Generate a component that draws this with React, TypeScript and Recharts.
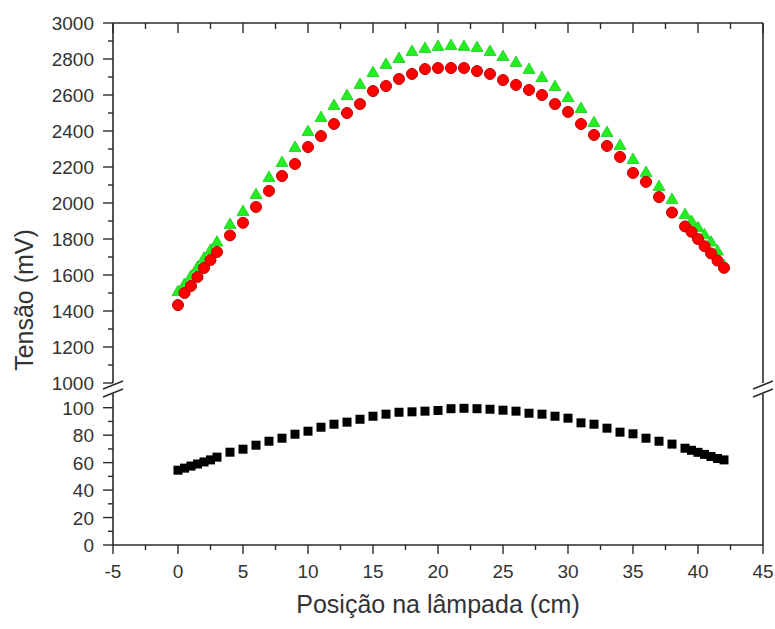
import { ScatterChart, Scatter, XAxis, YAxis } from 'recharts';

// posições (cm) — iguais para as três séries
const positions = [
  0, 0.5, 1, 1.5, 2, 2.5, 3, 4, 5, 6, 7, 8, 9, 10, 11, 12, 13, 14, 15, 16, 17, 18, 19, 20, 21, 22,
  23, 24, 25, 26, 27, 28, 29, 30, 31, 32, 33, 34, 35, 36, 37, 38, 39, 39.5, 40, 40.5, 41, 41.5, 42,
];

// tensão (mV)
const redVolts = [
  1433, 1500, 1539, 1589, 1639, 1683, 1728, 1820, 1890, 1978, 2067, 2150, 2217, 2311, 2372, 2439,
  2500, 2550, 2622, 2650, 2689, 2717, 2744, 2750, 2750, 2750, 2733, 2717, 2683, 2656, 2628, 2600,
  2550, 2506, 2439, 2378, 2317, 2256, 2167, 2117, 2033, 1947, 1870, 1840, 1800, 1760, 1720, 1680,
  1640,
];
const greenVolts = [
  1505, 1545, 1590, 1640, 1690, 1735, 1780, 1878, 1950, 2044, 2139, 2222, 2306, 2394, 2472, 2539,
  2594, 2656, 2722, 2767, 2800, 2839, 2856, 2867, 2872, 2867, 2861, 2839, 2811, 2778, 2739, 2694,
  2644, 2583, 2522, 2444, 2389, 2317, 2239, 2167, 2089, 2017, 1933, 1895, 1860, 1820, 1780, 1730,
  1650,
];
const blackVolts = [
  54.5, 56, 57.5, 59, 60.5, 62, 64, 67.6, 69.8, 72.7, 75.6, 77.8, 80.7, 82.9, 85.8, 88, 89.5, 91.6,
  93.8, 95.3, 96.7, 97, 97.5, 98, 99.3, 99.6, 99.3, 98.9, 98.2, 97.5, 96, 95.3, 93.8, 92.4, 89, 88,
  85.1, 82.2, 81, 77.8, 75.6, 73.5, 70.5, 69, 67.5, 66, 64.5, 63, 62,
];

const xTicks = [-5, -2.5, 0, 2.5, 5, 7.5, 10, 12.5, 15, 17.5, 20, 22.5, 25, 27.5, 30, 32.5, 35, 37.5, 40, 42.5, 45];
const upperTicks = [
  1000, 1100, 1200, 1300, 1400, 1500, 1600, 1700, 1800, 1900, 2000, 2100, 2200, 2300, 2400, 2500,
  2600, 2700, 2800, 2900, 3000,
];
const lowerTicks = [0, 10, 20, 30, 40, 50, 60, 70, 80, 90, 100];

const toPoints = (ys: number[]) => positions.map((x, i) => ({ x, y: ys[i] }));
const redPts = toPoints(redVolts);
const greenPts = toPoints(greenVolts);
const blackPts = toPoints(blackVolts);

const FONT = '"Liberation Sans", Arial, sans-serif';
const INK = '#333';
const LINE = '#2a2a2a';
const W = 775;

const axisLine = { stroke: LINE, strokeWidth: 1.6 };

const leftTick = (step: number) => (p: any) => {
  const major = p.payload.value % step === 0;
  const len = major ? 10 : 5;
  return (
    <g>
      <line x1={p.x - len} x2={p.x} y1={p.y} y2={p.y} stroke={LINE} strokeWidth={1.4} />
      {major && (
        <text x={p.x - 19} y={p.y + 7} textAnchor="end" fontSize={19} fontFamily={FONT} fill={INK}>
          {p.payload.value}
        </text>
      )}
    </g>
  );
};

const rightTick = (step: number) => (p: any) => {
  const len = p.payload.value % step === 0 ? 10 : 5;
  return <line x1={p.x - len} x2={p.x} y1={p.y} y2={p.y} stroke={LINE} strokeWidth={1.4} />;
};

const topTick = (p: any) => {
  const len = p.payload.value % 5 === 0 ? 10 : 6;
  return <line x1={p.x} x2={p.x} y1={p.y} y2={p.y + len} stroke={LINE} strokeWidth={1.4} />;
};

const bottomTick = (p: any) => {
  const major = p.payload.value % 5 === 0;
  const len = major ? 9 : 5;
  return (
    <g>
      <line x1={p.x} x2={p.x} y1={p.y} y2={p.y + len} stroke={LINE} strokeWidth={1.4} />
      {major && (
        <text x={p.x} y={p.y + 33} textAnchor="middle" fontSize={19} fontFamily={FONT} fill={INK}>
          {p.payload.value}
        </text>
      )}
    </g>
  );
};

const square = (p: any) => <rect x={p.cx - 4.5} y={p.cy - 4.5} width={9} height={9} fill="#000" />;
const circle = (p: any) => (
  <circle cx={p.cx} cy={p.cy} r={5.5} fill="#ff0000" stroke="#c00000" strokeWidth={1} />
);
const triangle = (p: any) => {
  const s = 12;
  const h = s * 0.866;
  const pts = `${p.cx},${p.cy - (2 * h) / 3} ${p.cx - s / 2},${p.cy + h / 3} ${p.cx + s / 2},${p.cy + h / 3}`;
  return <polygon points={pts} fill="#22ee22" stroke="#1ccc1c" strokeWidth={0.8} />;
};

export default function App() {
  return (
    <div style={{ position: 'absolute', left: 0, top: 0, width: W, height: 629, background: '#fff' }}>
      {/* parte de cima: 1000–3000 mV */}
      <div style={{ position: 'absolute', left: 0, top: 0 }}>
        <ScatterChart width={W} height={394} margin={{ top: 13, right: 2, bottom: 11, left: 53 }}>
          <XAxis
            type="number"
            dataKey="x"
            orientation="top"
            domain={[-5, 45]}
            ticks={xTicks}
            interval={0}
            height={10}
            tickSize={0}
            tickMargin={0}
            tickLine={false}
            axisLine={axisLine}
            tick={topTick}
          />
          <YAxis
            type="number"
            dataKey="y"
            domain={[1000, 3000]}
            ticks={upperTicks}
            interval={0}
            width={60}
            tickSize={0}
            tickMargin={0}
            tickLine={false}
            axisLine={axisLine}
            tick={leftTick(200)}
          />
          <YAxis
            yAxisId="r"
            orientation="right"
            type="number"
            domain={[1000, 3000]}
            ticks={upperTicks}
            interval={0}
            width={10}
            tickSize={0}
            tickMargin={0}
            tickLine={false}
            axisLine={axisLine}
            tick={rightTick(200)}
          />
          <Scatter data={greenPts} shape={triangle} isAnimationActive={false} />
          <Scatter data={redPts} shape={circle} isAnimationActive={false} />
        </ScatterChart>
      </div>

      {/* parte de baixo: 0–110 mV */}
      <div style={{ position: 'absolute', left: 0, top: 383 }}>
        <ScatterChart width={W} height={246} margin={{ top: 11, right: 2, bottom: 24, left: 53 }}>
          <XAxis
            type="number"
            dataKey="x"
            domain={[-5, 45]}
            ticks={xTicks}
            interval={0}
            height={60}
            tickSize={0}
            tickMargin={0}
            tickLine={false}
            axisLine={axisLine}
            tick={bottomTick}
          />
          <YAxis
            type="number"
            dataKey="y"
            domain={[0, 110]}
            ticks={lowerTicks}
            interval={0}
            width={60}
            tickSize={0}
            tickMargin={0}
            tickLine={false}
            axisLine={axisLine}
            tick={leftTick(20)}
          />
          <YAxis
            yAxisId="r"
            orientation="right"
            type="number"
            domain={[0, 110]}
            ticks={lowerTicks}
            interval={0}
            width={10}
            tickSize={0}
            tickMargin={0}
            tickLine={false}
            axisLine={axisLine}
            tick={rightTick(20)}
          />
          <Scatter data={blackPts} shape={square} isAnimationActive={false} />
        </ScatterChart>
      </div>

      {/* títulos e marcas de quebra */}
      <svg
        width={W}
        height={629}
        style={{ position: 'absolute', left: 0, top: 0, pointerEvents: 'none' }}
      >
        <g stroke={LINE} strokeWidth={1.5}>
          <line x1={103} y1={389} x2={123} y2={381} />
          <line x1={103} y1={397} x2={123} y2={389} />
          <line x1={753} y1={389} x2={773} y2={381} />
          <line x1={753} y1={397} x2={773} y2={389} />
        </g>
        <text
          x={24}
          y={300}
          transform="rotate(-90 24 300)"
          textAnchor="middle"
          dominantBaseline="central"
          fontSize={25}
          fontFamily={FONT}
          fill={INK}
        >
          Tensão (mV)
        </text>
        <text x={438} y={613} textAnchor="middle" fontSize={25} fontFamily={FONT} fill={INK}>
          Posição na lâmpada (cm)
        </text>
      </svg>
    </div>
  );
}
